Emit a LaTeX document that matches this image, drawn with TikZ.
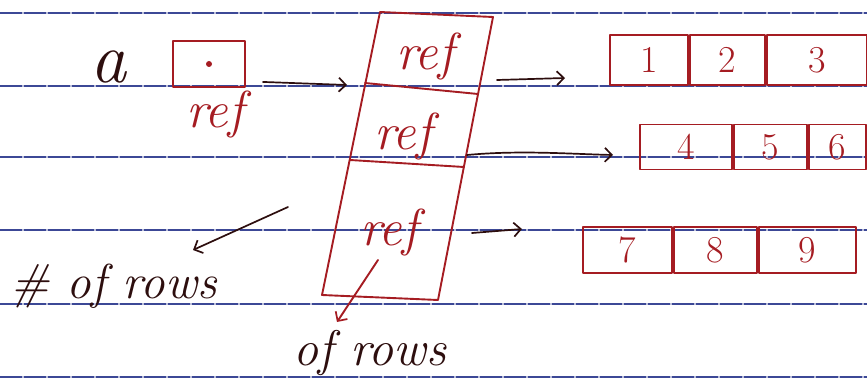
\documentclass[tikz,border=0pt]{standalone}
\usetikzlibrary{arrows.meta}
\definecolor{inkred}{RGB}{165,28,34}
\definecolor{inkdark}{RGB}{45,14,14}
\definecolor{ruling}{RGB}{60,72,150}
\begin{document}
\begin{tikzpicture}[x=1pt,y=-1pt,line cap=round,line join=round,
  ruled/.style={ruling,line width=1.3pt,dash pattern=on 22pt off 2pt},
  ink/.style={inkred,line width=1.9pt},
  pen/.style={inkdark,line width=1.7pt},
  lbl/.style={inkred,font=\itshape\fontsize{52}{52}\selectfont,inner sep=0pt},
  note/.style={inkdark,font=\itshape\fontsize{49}{49}\selectfont,inner sep=0pt},
  num/.style={inkred,font=\fontsize{38}{38}\selectfont,draw,line width=1.9pt,inner sep=0pt},
  tip/.style={-{Straight Barb[length=7pt,width=14pt,line width=1.7pt]}}]
\useasboundingbox (0,0) rectangle (867,382);

% ruled paper
\foreach \yy in {13,86,157,230,304,377}
  \draw[ruled] (0,\yy) -- (867,\yy);

% variable a and its reference box
\node[inkdark,font=\itshape\fontsize{72}{72}\selectfont,inner sep=0pt,anchor=base] (a) at (108,83) {a};
\node[ink,draw,minimum width=72pt,minimum height=46pt,inner sep=0pt] (abox) at (209,64) {};
\fill[inkred] (abox.center) circle (3pt);
\node[lbl,anchor=base] (aref) at (215,128) {ref};

% column of row references
\draw[ink] (380,12) -- (493,17) -- (438,300) -- (322,295) -- cycle;
\draw[ink] (365,83) -- (478,94);
\draw[ink] (350,160) -- (464,167);
\node[lbl,anchor=base] (r1) at (425,70) {ref};
\node[lbl,anchor=base] (r2) at (403,150) {ref};
\node[lbl,anchor=base] (r3) at (389,245) {ref};

% row arrays
\node[num,minimum width=78pt,minimum height=50pt] (a11) at (649,60) {1};
\node[num,minimum width=75pt,minimum height=50pt,anchor=west] (a12) at (a11.east) {2};
\node[num,minimum width=100pt,minimum height=50pt,anchor=west] (a13) at (a12.east) {3};

\node[num,minimum width=92pt,minimum height=45pt] (a21) at (686,147) {4};
\node[num,minimum width=73pt,minimum height=45pt,anchor=west] (a22) at (a21.east) {5};
\node[num,minimum width=57pt,minimum height=45pt,anchor=west] (a23) at (a22.east) {6};

\node[num,minimum width=89pt,minimum height=46pt] (a31) at (627.5,250) {7};
\node[num,minimum width=83pt,minimum height=46pt,anchor=west] (a32) at (a31.east) {8};
\node[num,minimum width=97pt,minimum height=46pt,anchor=west] (a33) at (a32.east) {9};

% arrow ends
\coordinate (in1) at (347,85);
\coordinate (o1) at (497,80);
\coordinate (e1) at (565,78);
\coordinate (o2) at (467,155);
\coordinate (e2) at (613,155);
\coordinate (o3) at (472,233);
\coordinate (e3) at (522,229);

\draw[pen,tip] (abox.south east) ++(17,-6) coordinate (s0) -- (in1);
\draw[pen,tip] (o1) -- (e1);
\draw[pen,tip] (o2) .. controls (520,150) and (570,154) .. (e2);
\draw[pen,tip] (o3) -- (e3);

% row count notes
\node[note,anchor=base west] (rows) at (10,298) {\# of rows};
\coordinate (n1) at (288,207);
\coordinate (n1e) at (193,250);
\draw[pen,tip] (n1) -- (n1e);

\node[note,anchor=base west,font=\itshape\fontsize{50}{50}\selectfont] (rows2) at (293,365) {of rows};
\coordinate (n2) at (378,260);
\coordinate (n2e) at (337,322);
\draw[ink,tip] (n2) -- (n2e);
\end{tikzpicture}
\end{document}
